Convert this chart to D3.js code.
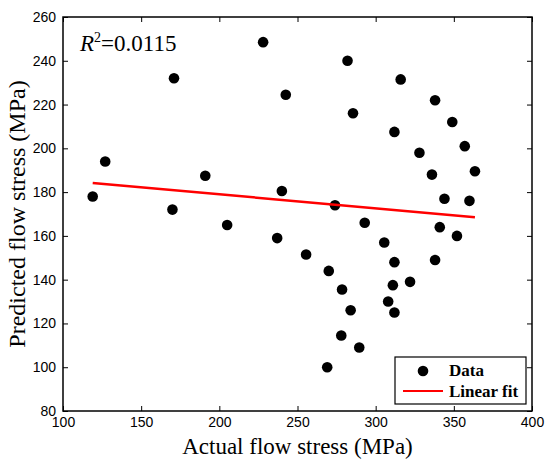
<!DOCTYPE html>
<html>
<head>
<meta charset="UTF-8">
<title>Predicted vs actual flow stress</title>
<script src="https://d3js.org/d3.v7.min.js"></script>
<style>
  body { margin: 0; background: #fff; }
  .tick text { font-family: "Liberation Sans", Arial, sans-serif; font-size: 14px; fill: #000; }
  .serif { font-family: "Liberation Serif", "DejaVu Serif", serif; }
</style>
</head>
<body>
<svg id="chart" width="545" height="460"></svg>
<script>
// data: actual (x) and predicted (y) flow stress, MPa
const actual = [119, 127, 171, 170, 191, 205, 228, 240, 242.5, 237, 255.5, 270, 274, 278.5, 282, 285.5,
  284, 278, 289.5, 269, 293, 305.5, 312, 312, 311, 308, 312, 316, 322, 328, 336, 338, 338, 341,
  344, 349, 352, 357, 360, 363.5];
const predicted = [178, 194, 232, 172, 187.5, 165, 248.5, 180.5, 224.5, 159, 151.5, 144, 174, 135.5, 240, 216,
  126, 114.5, 109, 100, 166, 157, 207.5, 148, 137.5, 130, 125, 231.5, 139, 198, 188, 222, 149, 164,
  177, 212, 160, 201, 176, 189.5];
const fit = { slope: -0.064, intercept: 191.8 };
const xTicks = [100, 150, 200, 250, 300, 350, 400];
const yTicks = [80, 100, 120, 140, 160, 180, 200, 220, 240, 260];

const margin = { top: 17, right: 13, bottom: 49, left: 63 };
const width = 545 - margin.left - margin.right,
      height = 460 - margin.top - margin.bottom;

const svg = d3.select("#chart");
const g = svg.append("g").attr("transform", `translate(${margin.left},${margin.top})`);

const x = d3.scaleLinear().domain([100, 400]).range([0, width]);
const y = d3.scaleLinear().domain([80, 260]).range([height, 0]);

// axes with inward ticks on all four sides
g.append("g").attr("transform", `translate(0,${height})`)
  .call(d3.axisBottom(x).tickValues(xTicks).tickSizeInner(-5).tickSizeOuter(0).tickPadding(6));
g.append("g")
  .call(d3.axisLeft(y).tickValues(yTicks).tickSizeInner(-5).tickSizeOuter(0).tickPadding(7));
g.append("g")
  .call(d3.axisTop(x).tickValues(xTicks).tickSizeInner(-5).tickSizeOuter(0).tickFormat(""));
g.append("g").attr("transform", `translate(${width},0)`)
  .call(d3.axisRight(y).tickValues(yTicks).tickSizeInner(-5).tickSizeOuter(0).tickFormat(""));
g.selectAll(".domain").remove();
g.selectAll(".tick line").attr("stroke", "#000");
g.append("rect").attr("width", width).attr("height", height)
  .attr("fill", "none").attr("stroke", "#000").attr("stroke-width", 1.5);

// points
const pts = actual.map((a, i) => ({ a, p: predicted[i] }));
g.selectAll(".dot").data(pts).enter().append("circle")
  .attr("cx", d => x(d.a)).attr("cy", d => y(d.p)).attr("r", 5.3).attr("fill", "#000");

// linear fit
const [xMin, xMax] = d3.extent(actual);
g.append("line")
  .attr("x1", x(xMin)).attr("y1", y(fit.intercept + fit.slope * xMin))
  .attr("x2", x(xMax)).attr("y2", y(fit.intercept + fit.slope * xMax))
  .attr("stroke", "#ff0000").attr("stroke-width", 2.5);

// R^2 annotation
const r2 = g.append("text").attr("class", "serif").attr("x", 17).attr("y", 34)
  .attr("font-size", 23);
r2.append("tspan").attr("font-style", "italic").text("R");
r2.append("tspan").attr("font-size", 14).attr("dy", -9).text("2");
r2.append("tspan").attr("dy", 9).text("=0.0115");

// legend
const lx = 395 - margin.left, ly = 357 - margin.top;
g.append("rect").attr("x", lx).attr("y", ly).attr("width", 131).attr("height", 47)
  .attr("fill", "#fff").attr("stroke", "#000").attr("stroke-width", 1.2);
g.append("circle").attr("cx", lx + 28).attr("cy", ly + 14).attr("r", 5.3).attr("fill", "#000");
g.append("line").attr("x1", lx + 8).attr("x2", lx + 48).attr("y1", ly + 34).attr("y2", ly + 34)
  .attr("stroke", "#ff0000").attr("stroke-width", 2);
g.append("text").attr("class", "serif").attr("x", lx + 54).attr("y", ly + 19)
  .attr("font-size", 17).attr("font-weight", "bold").text("Data");
g.append("text").attr("class", "serif").attr("x", lx + 54).attr("y", ly + 40)
  .attr("font-size", 17).attr("font-weight", "bold").text("Linear fit");

// axis titles
svg.append("text").attr("class", "serif").attr("x", margin.left + width / 2).attr("y", 454)
  .attr("text-anchor", "middle").attr("font-size", 23).text("Actual flow stress (MPa)");
svg.append("text").attr("class", "serif")
  .attr("transform", `translate(25,${margin.top + height / 2}) rotate(-90)`)
  .attr("text-anchor", "middle").attr("font-size", 24).text("Predicted flow stress (MPa)");
</script>
</body>
</html>
